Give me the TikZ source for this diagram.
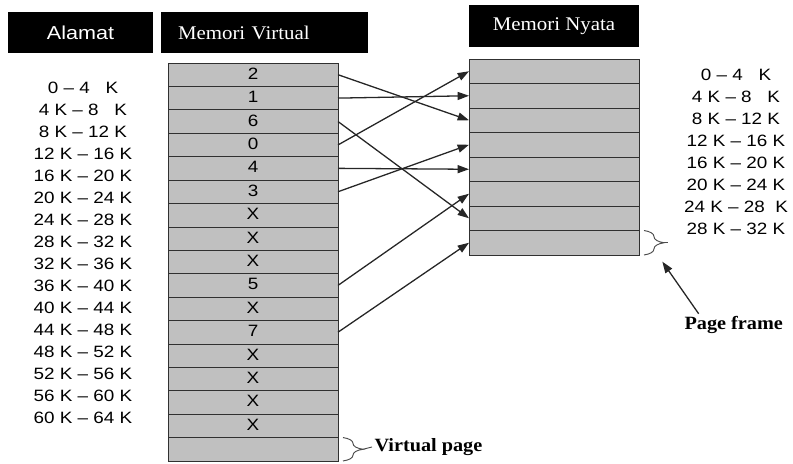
\documentclass[tikz,border=0pt]{standalone}
\usepackage{fontspec}
\setmainfont{Liberation Serif}
\newfontfamily\arial[FakeStretch=1.15]{Liberation Sans}
\newfontfamily\judul[FakeStretch=1.08]{Liberation Serif}
\usetikzlibrary{positioning, arrows.meta, decorations.pathreplacing}
\definecolor{abu}{HTML}{C0C0C0}
\definecolor{tepi}{HTML}{303030}

\begin{document}
\begin{tikzpicture}[
  x=0.3mm, y=-0.3mm,
  kepala/.style={fill=black, text=white, inner sep=0pt, minimum height=12.3mm,
                 font=\judul\fontsize{16.5}{18}\selectfont},
  baris/.style={draw=tepi, fill=abu, line width=0.6pt, minimum width=51mm,
                inner sep=0pt, outer sep=0pt},
  alamat/.style={font=\arial\fontsize{14}{16}\selectfont, inner sep=0pt},
  angka/.style={font=\arial\fontsize{14}{16}\selectfont, inner sep=0pt},
  tebal/.style={font=\judul\fontsize{16}{18}\selectfont\bfseries, inner sep=2pt},
  kurung/.style={decorate, decoration={brace, amplitude=6mm}, draw=black!70, line width=0.8pt},
  panah/.style={-{Triangle[length=3.4mm,width=2.4mm]}, line width=1.1pt, black!85},
]
\useasboundingbox (0,0) rectangle (793,464);
% judul kolom
\node[kepala, minimum width=43.5mm, font=\arial\fontsize{16}{18}\selectfont] (judal) at (80.5,32.5) {Alamat};
\node[kepala, inner xsep=5.1mm, text width=51.9mm, align=left] (judmv) at (264.5,32.5) {Memori Virtual};
\node[kepala, minimum width=51mm] (judmn) at (554,26) {Memori Nyata};
% memori virtual, 17 halaman
\foreach \i in {0,...,16}
  \node[baris, minimum height=7.02mm] (v\i) at (253,{63+23.41*(\i+0.5)}) {};
\foreach \isi [count=\i from 0] in {2,1,6,0,4,3,X,X,X,5,X,7,X,X,X,X}
  \node[angka] (a\i) at ([yshift=1pt]v\i) {\isi};
% memori nyata, 8 frame
\foreach \j in {0,...,7}
  \node[baris, minimum height=7.35mm] (f\j) at (554,{59+24.5*(\j+0.5)}) {};
% alamat di kiri dan kanan
\foreach \teks [count=\i from 0] in {0 – 4~~~K, 4 K – 8~~~K, 8 K – 12 K, 12 K – 16 K,
    16 K – 20 K, 20 K – 24 K, 24 K – 28 K, 28 K – 32 K, 32 K – 36 K, 36 K – 40 K,
    40 K – 44 K, 44 K – 48 K, 48 K – 52 K, 52 K – 56 K, 56 K – 60 K, 60 K – 64 K}
  \node[alamat] (kiri\i) at (83,{88+22*\i}) {\teks};
\foreach \teks [count=\j from 0] in {0 – 4~~~K, 4 K – 8~~~K, 8 K – 12 K, 12 K – 16 K,
    16 K – 20 K, 20 K – 24 K, 24 K – 28~~K, 28 K – 32 K}
  \node[alamat] (kanan\j) at (736,{75+22*\j}) {\teks};
% pemetaan halaman ke frame
\foreach \v/\f in {0/2, 1/1, 2/6, 3/0, 4/4, 5/3, 9/5, 11/7}
  \draw[panah] (v\v.east) -- (f\f.west);
% keterangan
\draw[kurung] ([xshift=1.5mm]v16.north east) -- ([xshift=1.5mm]v16.south east);
\coordinate (kv) at ([xshift=7.5mm]v16.east);
\node[tebal, anchor=west] (vp) at (372,447) {Virtual page};
\draw[line width=0.8pt, black!70] (kv) -- (vp.west);
\draw[kurung] ([xshift=1.5mm]f7.north east) -- ([xshift=1.5mm]f7.south east);
\coordinate (kf) at ([xshift=7.5mm]f7.east);
\draw[line width=0.8pt, black!70] (kf) -- ++(1.2mm,0);
\node[tebal, anchor=west] (pf) at (682,325) {Page frame};
\coordinate (ujung) at ([xshift=7mm,yshift=-2mm]f7.south east);
\draw[panah] ([xshift=5mm]pf.north west) -- (ujung);
\end{tikzpicture}
\end{document}
